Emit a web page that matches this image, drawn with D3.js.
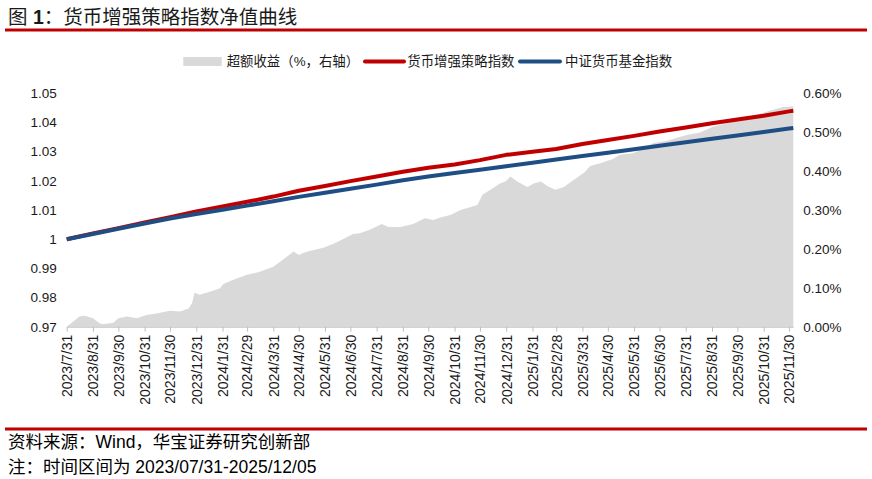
<!DOCTYPE html>
<html>
<head>
<meta charset="utf-8">
<script src="https://cdn.jsdelivr.net/npm/d3@7/dist/d3.min.js"></script>
<style>
  html, body { margin: 0; padding: 0; background: #fff; }
  svg { display: block; }
  text { font-family: "Liberation Sans", Arial, "Noto Sans CJK SC", sans-serif; }
</style>
</head>
<body>
<svg id="chart" width="872" height="479"></svg>
<script>
// ---------------- data ----------------
const lineDates = ["2023-07-31","2023-08-31","2023-09-30","2023-10-31","2023-11-30","2023-12-31",
  "2024-01-31","2024-02-29","2024-03-31","2024-04-30","2024-05-31","2024-06-30","2024-07-31",
  "2024-08-31","2024-09-30","2024-10-31","2024-11-30","2024-12-31","2025-01-31","2025-02-28",
  "2025-03-31","2025-04-30","2025-05-31","2025-06-30","2025-07-31","2025-08-31","2025-09-30",
  "2025-10-31","2025-11-30","2025-12-05"];
const strategyIndex = [1.0000,1.0020,1.0038,1.0057,1.0075,1.0095,1.0112,1.0128,1.0146,1.0166,
  1.0182,1.0199,1.0215,1.0231,1.0245,1.0256,1.0271,1.0289,1.0300,1.0309,1.0326,1.0340,1.0354,
  1.0369,1.0383,1.0397,1.0410,1.0423,1.0438,1.0440];
const moneyFundIndex = [1.0000,1.0018,1.0036,1.0054,1.0071,1.0086,1.0101,1.0115,1.0130,1.0145,
  1.0159,1.0173,1.0187,1.0202,1.0215,1.0227,1.0238,1.0250,1.0262,1.0273,1.0285,1.0296,1.0308,
  1.0320,1.0332,1.0344,1.0355,1.0367,1.0379,1.0381];

const excessDates = ["2023-07-31","2023-08-15","2023-08-21","2023-08-31","2023-09-08","2023-09-12",
  "2023-09-24","2023-09-30","2023-10-10","2023-10-22","2023-11-02","2023-11-14","2023-11-30",
  "2023-12-12","2023-12-22","2023-12-26","2023-12-29","2024-01-04","2024-01-16","2024-01-28",
  "2024-02-01","2024-02-12","2024-02-28","2024-03-15","2024-03-31","2024-04-08","2024-04-16",
  "2024-04-24","2024-04-30","2024-05-06","2024-05-14","2024-05-29","2024-06-10","2024-06-21",
  "2024-07-03","2024-07-11","2024-07-23","2024-08-06","2024-08-14","2024-08-28","2024-09-12",
  "2024-09-26","2024-10-06","2024-10-14","2024-10-26","2024-11-07","2024-11-15","2024-11-27",
  "2024-12-03","2024-12-15","2024-12-24","2024-12-30","2025-01-05","2025-01-13","2025-01-25",
  "2025-02-02","2025-02-10","2025-02-18","2025-02-27","2025-03-09","2025-03-21","2025-04-03",
  "2025-04-09","2025-04-21","2025-05-06","2025-05-14","2025-05-30","2025-06-11","2025-06-23",
  "2025-07-09","2025-08-01","2025-08-17","2025-09-01","2025-09-25","2025-10-19","2025-11-07",
  "2025-11-23","2025-12-05"];
const excessReturn = [0.000,0.026,0.028,0.022,0.009,0.006,
  0.010,0.022,0.026,0.022,0.030,0.034,0.041,
  0.039,0.047,0.060,0.087,0.082,0.090,0.099,
  0.110,0.120,0.133,0.141,0.154,0.167,0.180,
  0.193,0.184,0.190,0.195,0.203,0.213,0.225,
  0.238,0.240,0.249,0.264,0.256,0.256,0.264,
  0.279,0.274,0.281,0.287,0.300,0.305,0.313,
  0.339,0.356,0.369,0.373,0.386,0.373,0.359,
  0.369,0.373,0.361,0.352,0.359,0.378,0.398,
  0.413,0.420,0.431,0.442,0.446,0.459,0.472,
  0.478,0.493,0.499,0.514,0.527,0.542,0.555,
  0.565,0.566];

const xTickLabels = ["2023/7/31","2023/8/31","2023/9/30","2023/10/31","2023/11/30","2023/12/31",
  "2024/1/31","2024/2/29","2024/3/31","2024/4/30","2024/5/31","2024/6/30","2024/7/31",
  "2024/8/31","2024/9/30","2024/10/31","2024/11/30","2024/12/31","2025/1/31","2025/2/28",
  "2025/3/31","2025/4/30","2025/5/31","2025/6/30","2025/7/31","2025/8/31","2025/9/30",
  "2025/10/31","2025/11/30"];
const leftTicks = [0.97,0.98,0.99,1.00,1.01,1.02,1.03,1.04,1.05];
const rightTicks = [0.0,0.1,0.2,0.3,0.4,0.5,0.6];
const seriesNames = ["超额收益（%，右轴）","货币增强策略指数","中证货币基金指数"];
const titleText = ["图 ","1","：货币增强策略指数净值曲线"];
const sourceText = "资料来源：Wind，华宝证券研究创新部";
const noteText = "注：时间区间为 2023/07/31-2025/12/05";

// ---------------- setup ----------------
const svg = d3.select("#chart");
const parse = d3.timeParse("%Y-%m-%d");
const parseTick = d3.timeParse("%Y/%m/%d");
const RED = "#c00000", BLUE = "#1f4e85", GRAY = "#d9d9d9", TXT = "#1a1a1a";

const plot = {left: 66.7, right: 793.3, top: 93.3, bottom: 326.7};

const x = d3.scaleTime()
  .domain([parse(lineDates[0]), parse(lineDates[lineDates.length - 1])])
  .range([plot.left, plot.right]);
const yL = d3.scaleLinear().domain([0.97, 1.05]).range([plot.bottom, plot.top]);
const yR = d3.scaleLinear().domain([0, 0.6]).range([plot.bottom, plot.top]);

// ---------------- title & rules ----------------
const title = svg.append("text").attr("x", 8).attr("y", 24)
  .attr("font-size", 19.5).attr("fill", TXT)
  .style("font-family", "\"Liberation Sans\", \"Noto Sans CJK SC\", sans-serif");
title.append("tspan").text(titleText[0]);
title.append("tspan").attr("font-weight", "bold").text(titleText[1]);
title.append("tspan").text(titleText[2]);

svg.append("line").attr("x1", 5).attr("x2", 867).attr("y1", 30).attr("y2", 30)
  .attr("stroke", RED).attr("stroke-width", 3);
svg.append("line").attr("x1", 5).attr("x2", 867).attr("y1", 429).attr("y2", 429)
  .attr("stroke", RED).attr("stroke-width", 3);

// ---------------- area ----------------
const excessData = excessDates.map((d, i) => ({date: parse(d), v: excessReturn[i]}));
svg.append("path")
  .datum(excessData)
  .attr("fill", GRAY)
  .attr("d", d3.area().x(d => x(d.date)).y0(yR(0)).y1(d => yR(d.v)));

// ---------------- x axis ----------------
const xAxis = svg.append("g")
  .attr("transform", `translate(0,${plot.bottom})`)
  .call(d3.axisBottom(x)
    .tickValues(xTickLabels.map(s => parseTick(s)))
    .tickFormat((d, i) => xTickLabels[i])
    .tickSize(5)
    .tickSizeOuter(0));
xAxis.select(".domain").attr("stroke", "#bfbfbf");
xAxis.selectAll(".tick line").attr("stroke", "#bfbfbf");
xAxis.selectAll(".tick text")
  .attr("transform", "rotate(-90)")
  .attr("x", -8).attr("y", 0).attr("dy", "0.35em")
  .style("text-anchor", "end")
  .attr("font-size", 14)
  .attr("fill", TXT);

// ---------------- lines ----------------
const redData = lineDates.map((d, i) => ({date: parse(d), v: strategyIndex[i]}));
const blueData = lineDates.map((d, i) => ({date: parse(d), v: moneyFundIndex[i]}));
const line = d3.line().x(d => x(d.date)).y(d => yL(d.v));
svg.append("path").datum(redData).attr("fill", "none").attr("stroke", RED)
  .attr("stroke-width", 4).attr("stroke-linejoin", "round").attr("d", line);
svg.append("path").datum(blueData).attr("fill", "none").attr("stroke", BLUE)
  .attr("stroke-width", 4).attr("stroke-linejoin", "round").attr("d", line);

// ---------------- y axes ----------------
const left = svg.append("g").attr("transform", `translate(${plot.left},0)`)
  .call(d3.axisLeft(yL).tickValues(leftTicks).tickSize(0).tickPadding(10)
    .tickFormat(d => String(+d.toFixed(2))));
left.select(".domain").remove();
left.selectAll("text").attr("font-size", 13.5).attr("fill", TXT);

const right = svg.append("g").attr("transform", `translate(${plot.right},0)`)
  .call(d3.axisRight(yR).tickValues(rightTicks).tickSize(0).tickPadding(10)
    .tickFormat(d => d.toFixed(2) + "%"));
right.select(".domain").remove();
right.selectAll("text").attr("font-size", 13.5).attr("fill", TXT);

// ---------------- legend ----------------
const lg = svg.append("g").attr("font-size", 13.4).attr("fill", TXT)
  .style("font-family", "\"Noto Sans CJK SC\", sans-serif");
const ly = 61.5;
lg.append("rect").attr("x", 183.3).attr("y", ly - 4.5).attr("width", 38.4).attr("height", 9).attr("fill", GRAY);
lg.append("text").attr("x", 226.7).attr("y", ly).attr("dominant-baseline", "central").text(seriesNames[0]);
lg.append("line").attr("x1", 365).attr("x2", 404).attr("y1", ly).attr("y2", ly)
  .attr("stroke", RED).attr("stroke-width", 4).attr("stroke-linecap", "round");
lg.append("text").attr("x", 407.3).attr("y", ly).attr("dominant-baseline", "central").text(seriesNames[1]);
lg.append("line").attr("x1", 520).attr("x2", 560).attr("y1", ly).attr("y2", ly)
  .attr("stroke", BLUE).attr("stroke-width", 4).attr("stroke-linecap", "round");
lg.append("text").attr("x", 565).attr("y", ly).attr("dominant-baseline", "central").text(seriesNames[2]);

// ---------------- footer ----------------
svg.append("text").attr("x", 8).attr("y", 447.5).attr("font-size", 17.5).attr("fill", "#000")
  .text(sourceText);
svg.append("text").attr("x", 8).attr("y", 472.5).attr("font-size", 17.5).attr("fill", "#000")
  .text(noteText);
</script>
</body>
</html>
